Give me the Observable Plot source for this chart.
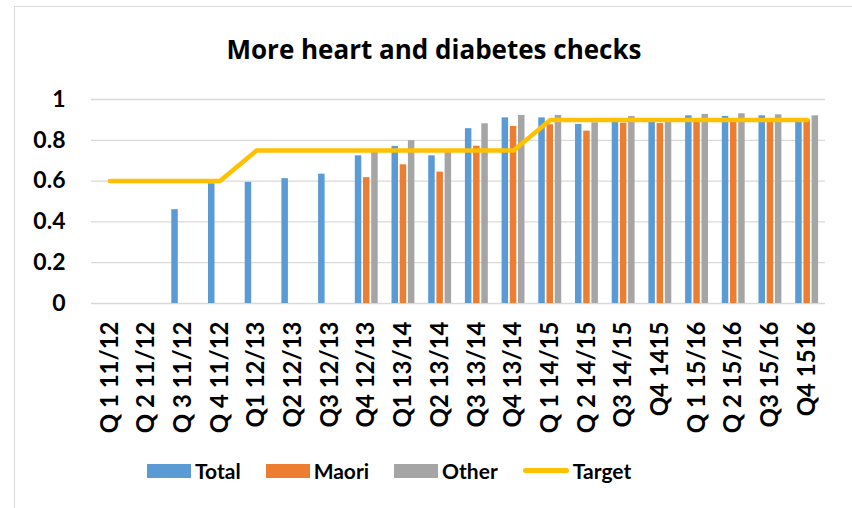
<!DOCTYPE html>
<html><head><meta charset="utf-8">
<script src="https://cdn.jsdelivr.net/npm/d3@7"></script>
<script src="https://cdn.jsdelivr.net/npm/@observablehq/plot@0.6"></script>
<style>
body{margin:0;background:#fff;overflow:hidden;font-family:Lato,"Open Sans",sans-serif;color:#000;}
#wrap{position:relative;width:852px;height:508px;overflow:hidden;}
#frame{position:absolute;left:14px;top:6px;width:900px;height:600px;border:1.3px solid #d9d9d9;box-sizing:border-box;}
#title{position:absolute;left:0;top:33px;width:868px;text-align:center;font-family:"Open Sans",Lato,sans-serif;font-weight:700;font-size:26px;line-height:32px;}
#chart{position:absolute;left:0;top:80px;}
#legend{position:absolute;left:147px;top:458px;display:flex;align-items:center;font-weight:700;font-size:21px;line-height:25px;}
.item{display:flex;align-items:center;margin-right:25px;}
.sw{width:44px;height:14px;margin-right:4px;}
.ln{width:46px;height:5px;border-radius:3px;margin-right:4px;}
</style></head>
<body>
<div id="wrap">
<div id="frame"></div>
<div id="title">More heart and diabetes checks</div>
<div id="chart"></div>
<div id="legend"></div>
</div>
<script>
const categories = ["Q 1 11/12","Q 2 11/12","Q 3 11/12","Q 4 11/12","Q1 12/13","Q2 12/13","Q3 12/13","Q4 12/13","Q1 13/14","Q2 13/14","Q3 13/14","Q4 13/14","Q 1 14/15","Q 2 14/15","Q3 14/15","Q4 1415","Q 1 15/16","Q 2 15/16","Q3 15/16","Q4 1516"];
const total  = [null,null,0.46,0.587,0.594,0.612,0.634,0.724,0.77,0.724,0.857,0.91,0.91,0.878,0.895,0.9,0.92,0.917,0.92,0.9];
const maori  = [null,null,null,null,null,null,null,0.617,0.68,0.644,0.771,0.868,0.876,0.845,0.884,0.882,0.9,0.9,0.9,0.9];
const other  = [null,null,null,null,null,null,null,0.745,0.798,0.74,0.881,0.922,0.922,0.886,0.917,0.9,0.927,0.93,0.925,0.92];
const target = [0.6,0.6,0.6,0.6,0.75,0.75,0.75,0.75,0.75,0.75,0.75,0.75,0.9,0.9,0.9,0.9,0.9,0.9,0.9,0.9];
const yTicks = [0,0.2,0.4,0.6,0.8,1];
const yTickLabels = ["0","0.2","0.4","0.6","0.8","1"];
const seriesNames = ["Total","Maori","Other","Target"];
const colors = {Total:"#5B9BD5", Maori:"#ED7D31", Other:"#A5A5A5", Target:"#FFC000"};

const rows = categories.map((c,i)=>({cat:c,total:total[i],maori:maori[i],other:other[i],target:target[i]}));
const barOpts = {insetLeft:15.1, insetRight:15.1};

const chart = Plot.plot({
  width:852, height:370,
  marginTop:19, marginBottom:147, marginLeft:91, marginRight:27,
  style:{fontFamily:"Lato, 'Open Sans', sans-serif", fontSize:"23px", fontWeight:700, color:"#000", background:"transparent"},
  x:{domain:categories, padding:0, round:false, axis:null, label:null},
  y:{domain:[0,1], axis:null, label:null},
  marks:[
    Plot.ruleY(yTicks,{stroke:"#d9d9d9", strokeWidth:1.3}),
    Plot.barY(rows,{x:"cat", y:"total", fill:colors.Total, dx:-8.2, ...barOpts}),
    Plot.barY(rows,{x:"cat", y:"maori", fill:colors.Maori, ...barOpts}),
    Plot.barY(rows,{x:"cat", y:"other", fill:colors.Other, dx:8.2, ...barOpts}),
    Plot.lineY(rows,{x:"cat", y:"target", stroke:colors.Target, strokeWidth:4.5, strokeLinecap:"round", strokeLinejoin:"round"}),
    Plot.axisY(yTicks,{tickSize:0, tickPadding:26, tickFormat:(d,i)=>yTickLabels[i], fill:"#000", label:null}),
    Plot.axisX(categories,{tickSize:0, tickPadding:18, tickRotate:-90, fill:"#000", fontSize:24, label:null})
  ]
});
document.getElementById("chart").appendChild(chart);

const legend = document.getElementById("legend");
seriesNames.forEach(name=>{
  const it = document.createElement("div");
  it.className="item";
  const sw = document.createElement("div");
  sw.className = name==="Target" ? "ln" : "sw";
  sw.style.background = colors[name];
  const t = document.createElement("span");
  t.textContent = name;
  it.appendChild(sw); it.appendChild(t);
  legend.appendChild(it);
});
</script>
</body></html>
